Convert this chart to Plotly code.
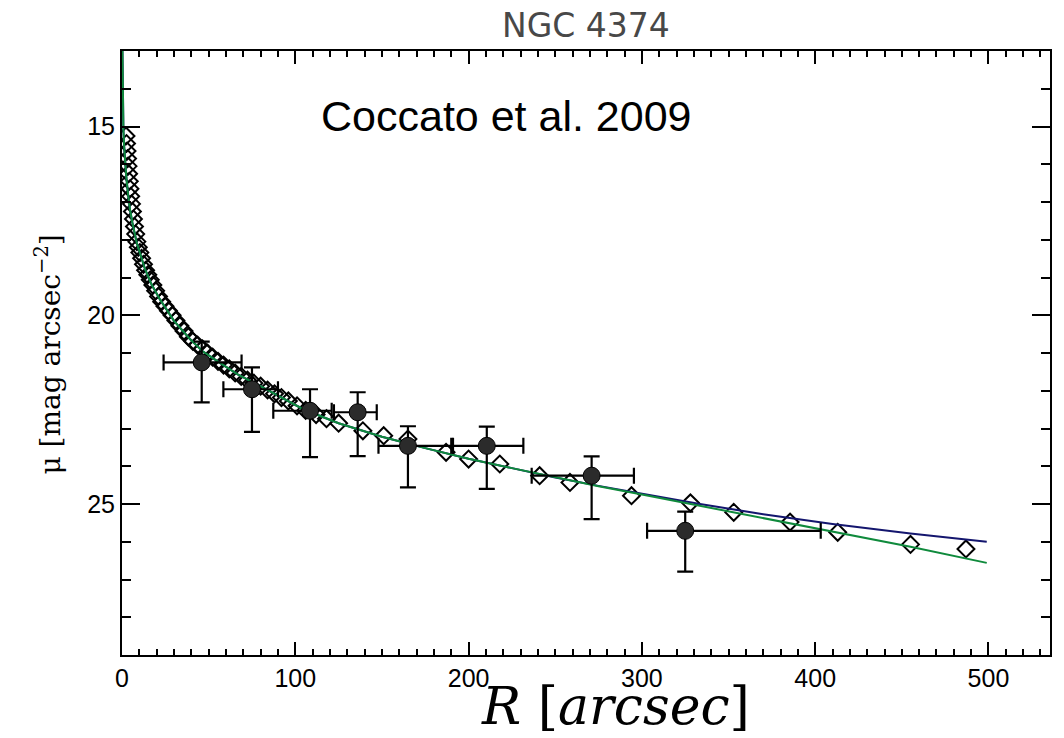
import plotly.graph_objects as go

# ---- data ----
# model curves (R in arcsec, mu in mag/arcsec^2)
line_r = [0, 0.4, 0.8, 1.2, 1.7, 2.5, 3.5, 4.6, 6, 8.5, 13.3, 17, 21.9, 30, 39.2, 47, 56.5, 67, 79.6, 92, 104.6,
          125, 150, 175, 200, 225, 250, 275, 300, 333.5, 370, 410, 455, 499]
green_mu = [12.0, 14.0, 15.08, 15.5, 15.87, 16.35, 16.8, 17.2, 17.55, 18.08, 18.78, 19.18, 19.58, 20.15, 20.63, 20.97,
            21.26, 21.57, 21.87, 22.18, 22.49, 22.86, 23.22, 23.52, 23.8, 24.05, 24.3, 24.53, 24.75, 25.05, 25.38,
            25.72, 26.13, 26.56]
blue_mu = [12.0, 14.0, 15.08, 15.5, 15.87, 16.35, 16.8, 17.2, 17.55, 18.08, 18.78, 19.18, 19.58, 20.15, 20.63, 20.97,
           21.26, 21.57, 21.87, 22.18, 22.49, 22.86, 23.22, 23.52, 23.8, 24.05, 24.3, 24.52, 24.73, 25.0, 25.27,
           25.53, 25.78, 26.0]

# photometry (open diamonds)
dm_r = [2.3, 2.6, 2.9, 3.2, 3.5, 3.8, 4.2, 4.6, 5.0, 5.5, 6.0, 6.6, 7.2, 7.9, 8.6, 9.4, 10.3, 11.3, 12.4, 13.6,
        14.9, 16.3, 17.8, 19.4, 21.1, 22.9, 24.8, 26.8, 28.9, 31.1, 33.4, 35.8, 38.3, 40.9, 43.6, 46.4, 49.3, 52.3,
        55.4, 58.6, 61.9, 65.3, 68.8, 72.4, 76.1, 80, 84, 88, 92, 96, 101, 106, 112, 118, 125, 139, 151, 165,
        187, 200, 218, 241, 258.5, 294, 328, 353, 385.5, 413, 455, 487]
dm_mu = [15.25, 15.45, 15.65, 15.85, 16.05, 16.25, 16.45, 16.65, 16.85, 17.05, 17.25, 17.45, 17.65, 17.85, 18.05,
         18.2, 18.34, 18.49, 18.65, 18.81, 18.93, 19.06, 19.2, 19.35, 19.5, 19.64, 19.76, 19.88, 20.0, 20.14, 20.28,
         20.42, 20.57, 20.69, 20.79, 20.89, 21.0, 21.11, 21.22, 21.32, 21.42, 21.53, 21.62, 21.72, 21.8, 21.88,
         21.98, 22.08, 22.18, 22.27, 22.4, 22.52, 22.63, 22.74, 22.86, 23.06, 23.19, 23.28, 23.63, 23.81, 23.94,
         24.25, 24.43, 24.78, 24.97, 25.22, 25.48, 25.75, 26.07, 26.19]

# binned points (filled circles) with asymmetric errors
gc_r = [46, 75, 108.5, 136, 165, 210.5, 271, 325]
gc_mu = [21.25, 21.96, 22.53, 22.57, 23.46, 23.46, 24.25, 25.71]
gc_r_lo = [24, 58.5, 87.3, 122.3, 148, 191, 236.4, 303]
gc_r_hi = [69, 90, 121, 147, 190, 231.6, 295.4, 403.2]
gc_mu_top = [20.7, 21.38, 21.96, 22.04, 22.94, 22.95, 23.74, 25.2]
gc_mu_bot = [22.31, 23.09, 23.76, 23.73, 24.56, 24.6, 25.4, 26.79]

x_ticks = [0, 100, 200, 300, 400, 500]
y_ticks = [15, 20, 25]

fig = go.Figure()

fig.add_trace(go.Scatter(
    x=dm_r, y=dm_mu, mode="markers",
    marker=dict(symbol="diamond-open", size=13, color="black", line=dict(width=2, color="black")),
    showlegend=False))

fig.add_trace(go.Scatter(x=line_r, y=blue_mu, mode="lines",
                         line=dict(color="#14166e", width=2), showlegend=False))
fig.add_trace(go.Scatter(x=line_r, y=green_mu, mode="lines",
                         line=dict(color="#0f8a3c", width=2), showlegend=False))

fig.add_trace(go.Scatter(
    x=gc_r, y=gc_mu, mode="markers",
    marker=dict(symbol="circle", size=17, color="#2b2b2b", line=dict(width=1, color="black")),
    error_x=dict(type="data", symmetric=False,
                 array=[h - r for h, r in zip(gc_r_hi, gc_r)],
                 arrayminus=[r - l for l, r in zip(gc_r_lo, gc_r)],
                 color="black", thickness=2.2, width=8),
    error_y=dict(type="data", symmetric=False,
                 array=[b - m for b, m in zip(gc_mu_bot, gc_mu)],
                 arrayminus=[m - t for t, m in zip(gc_mu_top, gc_mu)],
                 color="black", thickness=2.2, width=8),
    showlegend=False))

axis_common = dict(showline=True, linecolor="black", linewidth=2, mirror="ticks",
                   ticks="inside", tickcolor="black", tickwidth=2,
                   showgrid=False, zeroline=False,
                   tickfont=dict(family="Liberation Sans, Arial, sans-serif", size=25, color="black"))

fig.update_xaxes(range=[0, 535.5], tickvals=x_ticks, ticklen=13,
                 minor=dict(dtick=10, tick0=0, ticks="inside", ticklen=6, tickcolor="black", tickwidth=1.5),
                 **axis_common)
fig.update_yaxes(range=[29, 13], tickvals=y_ticks, ticklen=18,
                 minor=dict(dtick=1, tick0=0, ticks="inside", ticklen=9, tickcolor="black", tickwidth=1.5),
                 **axis_common)

fig.update_layout(
    width=1064, height=738,
    margin=dict(l=122, r=14, t=51, b=83),
    paper_bgcolor="white", plot_bgcolor="white",
    annotations=[
        dict(text="NGC 4374", xref="paper", yref="paper", x=0.5, y=1.043, xanchor="center", yanchor="middle",
             showarrow=False, font=dict(family="DejaVu Sans, sans-serif", size=33, color="#484848")),
        dict(text="Coccato et al. 2009", xref="paper", yref="paper", x=0.4143, y=0.893,
             xanchor="center", yanchor="middle", showarrow=False,
             font=dict(family="Liberation Sans, Arial, sans-serif", size=43, color="black")),
        dict(text="<i>R</i> [<i>arcsec</i>]", xref="paper", yref="paper", x=0.532, y=-0.085,
             xanchor="center", yanchor="middle", showarrow=False,
             font=dict(family="DejaVu Serif, serif", size=52, color="black")),
        dict(text="μ [mag arcsec<sup>−2</sup>]", xref="paper", yref="paper", x=-0.079, y=0.497,
             xanchor="center", yanchor="middle", showarrow=False, textangle=-90,
             font=dict(family="DejaVu Serif, serif", size=28, color="black")),
    ],
)

fig.write_html("out.html", config={"displayModeBar": False},
               post_script="document.body.style.margin='0';")
